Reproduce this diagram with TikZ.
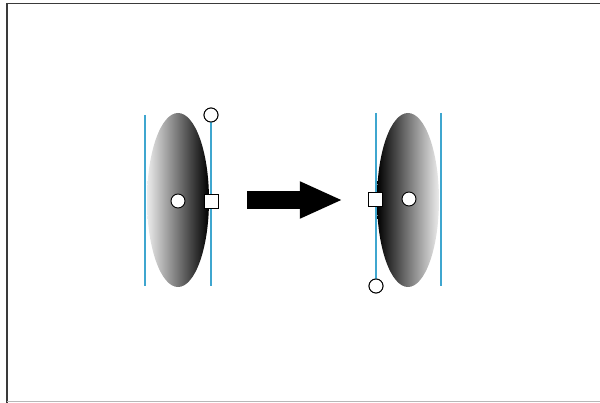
\documentclass[tikz,border=0pt]{standalone}
\usetikzlibrary{arrows.meta,shapes.geometric}
\definecolor{Lensblue}{HTML}{3FA6CF}
\definecolor{Frame}{HTML}{3A3A3A}
\definecolor{Light}{HTML}{B8B8B8}

\begin{document}
\begin{tikzpicture}[x=1pt,y=-1pt,
lens/.style={ellipse,minimum width=62pt,minimum height=174pt,inner sep=0pt},
axis/.style={Lensblue,line width=1.6pt},
dot/.style={circle,draw,fill=white,minimum size=14pt,inner sep=0pt,line width=0.9pt},
sq/.style={rectangle,draw,fill=white,minimum size=14pt,inner sep=0pt,line width=0.9pt},
bigarr/.style={line width=18pt,-{Triangle[length=43pt,width=34pt]}}]
\useasboundingbox (0,0) rectangle (600,403);
% frame
\draw[Frame,line width=1.5pt] (7,3.5) -- (600,3.5);
\draw[Frame,line width=1.5pt] (7,3) -- (7,403);
\draw[Light,line width=1pt] (7,401.5) -- (600,401.5);
% lenses
\node[lens,left color=gray!15,right color=black] (lensA) at (178,200) {};
\node[lens,left color=black,right color=gray!15] (lensB) at (408,200) {};
% axes
\coordinate (a1) at (145,115); \coordinate (a2) at (145,286);
\coordinate (a3) at (211,286);
\coordinate (b1) at (376,113); \coordinate (b2) at (441,113);
\coordinate (b3) at (441,286);
\node[dot] (topA) at (211,115) {};
\node[dot] (botB) at (376,286) {};
\draw[axis] (a1) -- (a2);
\draw[axis] (topA) -- (a3);
\draw[axis] (b1) -- (botB);
\draw[axis] (b2) -- (b3);
% points
\node[dot] (cenA) at (178,201) {};
\node[sq] (sqA) at (211,201) {};
\node[sq] (sqB) at (375,199) {};
\node[dot] (cenB) at (409,199) {};
\node[dot] at (topA) {};
\node[dot] at (botB) {};
% arrow
\draw[bigarr,shorten <=38pt,shorten >=34pt] (lensA) -- (lensB);
\end{tikzpicture}
\end{document}
